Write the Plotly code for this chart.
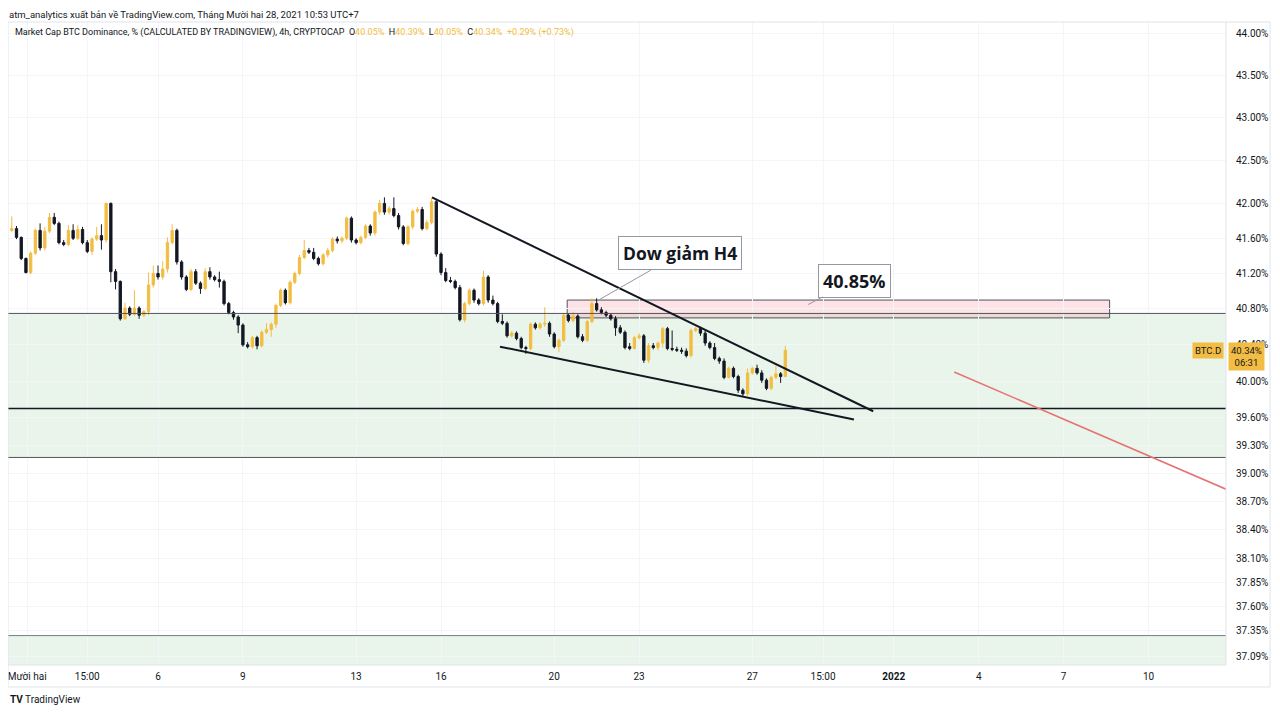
import math
import pandas as pd
import plotly.graph_objects as go

# ---------------- data ----------------
candle_start = "2021-11-30 23:00"   # first 4h bar (UTC+7)
candle_step = "4h"

open_ = [41.69, 41.71, 41.61, 41.37, 41.21, 41.43, 41.69, 41.49, 41.68, 41.84,
         41.77, 41.55, 41.53, 41.69, 41.60, 41.70, 41.55, 41.45, 41.59, 41.63,
         41.58, 42.00, 41.22, 41.11, 40.69, 40.81, 40.74, 40.81, 40.73, 40.77,
         41.07, 41.20, 41.16, 41.25, 41.55, 41.69, 41.33, 41.16, 41.02, 41.22,
         41.09, 41.03, 41.22, 41.16, 41.13, 41.11, 40.86, 40.76, 40.71, 40.62,
         40.40, 40.38, 40.48, 40.39, 40.54, 40.57, 40.63, 40.84, 41.01, 40.87,
         41.10, 41.20, 41.38, 41.46, 41.44, 41.37, 41.31, 41.41, 41.46, 41.59,
         41.57, 41.60, 41.83, 41.58, 41.55, 41.61, 41.74, 41.66, 41.90, 42.00,
         41.90, 41.94, 41.86, 41.73, 41.54, 41.73, 41.91, 41.93, 41.71, 41.78,
         42.02, 41.42, 41.21, 41.12, 41.11, 41.04, 40.68, 40.86, 41.01, 40.90,
         40.86, 41.16, 40.90, 40.86, 40.66, 40.64, 40.50, 40.53, 40.47, 40.37,
         40.36, 40.63, 40.59, 40.63, 40.64, 40.52, 40.38, 40.45, 40.73, 40.67,
         40.72, 40.49, 40.45, 40.66, 40.86, 40.79, 40.76, 40.73, 40.69, 40.59,
         40.54, 40.38, 40.36, 40.48, 40.50, 40.23, 40.39, 40.37, 40.42, 40.58,
         40.36, 40.35, 40.34, 40.33, 40.28, 40.56, 40.58, 40.53, 40.42, 40.37,
         40.25, 40.22, 40.04, 40.14, 40.05, 39.90, 39.86, 40.09, 40.14, 40.09,
         40.01, 39.92, 40.04, 40.08, 40.05]

high = [41.85, 41.74, 41.62, 41.38, 41.45, 41.71, 41.77, 41.73, 41.89, 41.89,
        41.79, 41.58, 41.75, 41.76, 41.75, 41.73, 41.58, 41.61, 41.73, 41.76,
        42.01, 42.01, 41.25, 41.12, 40.87, 40.83, 41.01, 40.83, 40.79, 41.21,
        41.29, 41.29, 41.34, 41.61, 41.76, 41.71, 41.35, 41.18, 41.25, 41.25,
        41.11, 41.26, 41.27, 41.18, 41.22, 41.13, 40.88, 40.78, 40.73, 40.64,
        40.43, 40.50, 40.50, 40.56, 40.64, 40.65, 40.86, 41.03, 41.03, 41.12,
        41.22, 41.41, 41.58, 41.49, 41.49, 41.39, 41.43, 41.49, 41.61, 41.62,
        41.62, 41.85, 41.85, 41.60, 41.63, 41.76, 41.76, 41.92, 42.04, 42.07,
        41.97, 42.07, 41.89, 41.75, 41.75, 41.93, 41.96, 41.96, 41.81, 42.06,
        42.05, 41.44, 41.26, 41.16, 41.13, 41.07, 40.88, 41.03, 41.03, 40.92,
        41.23, 41.18, 40.95, 40.88, 40.74, 40.66, 40.55, 40.55, 40.49, 40.39,
        40.65, 40.65, 40.65, 40.82, 40.66, 40.54, 40.47, 40.75, 40.75, 40.77,
        40.74, 40.52, 40.68, 40.92, 40.92, 40.82, 40.78, 40.75, 40.72, 40.62,
        40.56, 40.42, 40.50, 40.53, 40.52, 40.42, 40.42, 40.44, 40.60, 40.60,
        40.56, 40.38, 40.37, 40.36, 40.58, 40.60, 40.60, 40.57, 40.44, 40.42,
        40.27, 40.25, 40.16, 40.16, 40.07, 39.92, 40.14, 40.16, 40.18, 40.12,
        40.03, 40.06, 40.17, 40.10, 40.39]

low = [41.67, 41.59, 41.35, 41.20, 41.19, 41.41, 41.46, 41.46, 41.66, 41.75,
       41.53, 41.51, 41.51, 41.58, 41.58, 41.53, 41.43, 41.41, 41.57, 41.47,
       41.55, 41.10, 41.02, 40.67, 40.68, 40.72, 40.72, 40.69, 40.71, 40.73,
       41.04, 41.13, 41.13, 41.21, 41.53, 41.30, 41.13, 41.00, 41.00, 41.07,
       40.97, 41.01, 41.13, 41.11, 41.04, 40.84, 40.74, 40.68, 40.53, 40.38,
       40.36, 40.36, 40.35, 40.37, 40.52, 40.49, 40.59, 40.82, 40.85, 40.85,
       41.08, 41.18, 41.36, 41.42, 41.35, 41.29, 41.29, 41.38, 41.44, 41.54,
       41.54, 41.58, 41.55, 41.53, 41.53, 41.59, 41.63, 41.63, 41.87, 41.87,
       41.87, 41.84, 41.70, 41.52, 41.52, 41.70, 41.89, 41.69, 41.69, 41.76,
       41.39, 41.18, 41.10, 41.09, 41.02, 40.66, 40.65, 40.84, 40.87, 40.84,
       40.84, 40.87, 40.84, 40.64, 40.62, 40.48, 40.48, 40.45, 40.35, 40.30,
       40.34, 40.57, 40.57, 40.60, 40.49, 40.36, 40.32, 40.43, 40.65, 40.65,
       40.47, 40.43, 40.43, 40.64, 40.77, 40.74, 40.71, 40.67, 40.50, 40.52,
       40.35, 40.34, 40.35, 40.46, 40.20, 40.20, 40.35, 40.34, 40.37, 40.34,
       40.33, 40.32, 40.30, 40.26, 40.26, 40.54, 40.50, 40.39, 40.35, 40.23,
       40.19, 40.02, 40.03, 40.03, 39.87, 39.83, 39.84, 40.07, 40.07, 39.98,
       39.90, 39.90, 40.02, 39.98, 40.05]

close = [41.71, 41.61, 41.37, 41.21, 41.43, 41.69, 41.49, 41.68, 41.84, 41.77,
         41.55, 41.53, 41.69, 41.60, 41.70, 41.55, 41.45, 41.59, 41.63, 41.58,
         42.00, 41.22, 41.11, 40.69, 40.81, 40.74, 40.81, 40.73, 40.77, 41.07,
         41.20, 41.16, 41.25, 41.55, 41.69, 41.33, 41.16, 41.02, 41.22, 41.09,
         41.03, 41.22, 41.16, 41.13, 41.11, 40.86, 40.76, 40.71, 40.62, 40.40,
         40.38, 40.48, 40.39, 40.54, 40.57, 40.63, 40.84, 41.01, 40.87, 41.10,
         41.20, 41.38, 41.46, 41.44, 41.37, 41.31, 41.41, 41.46, 41.59, 41.57,
         41.60, 41.83, 41.58, 41.55, 41.61, 41.74, 41.66, 41.90, 42.00, 41.90,
         41.94, 41.86, 41.73, 41.54, 41.73, 41.91, 41.93, 41.71, 41.78, 42.02,
         41.42, 41.21, 41.12, 41.11, 41.04, 40.68, 40.86, 41.01, 40.90, 40.86,
         41.16, 40.90, 40.86, 40.66, 40.64, 40.50, 40.53, 40.47, 40.37, 40.36,
         40.63, 40.59, 40.63, 40.64, 40.52, 40.38, 40.45, 40.73, 40.67, 40.72,
         40.49, 40.45, 40.66, 40.86, 40.79, 40.76, 40.73, 40.69, 40.59, 40.54,
         40.37, 40.36, 40.48, 40.50, 40.23, 40.39, 40.37, 40.42, 40.58, 40.36,
         40.35, 40.34, 40.33, 40.28, 40.56, 40.58, 40.53, 40.42, 40.37, 40.25,
         40.22, 40.04, 40.14, 40.05, 39.90, 39.86, 40.09, 40.14, 40.09, 40.01,
         39.92, 40.04, 40.08, 40.05, 40.34]

# axis ticks
y_ticks = [44.00, 43.50, 43.00, 42.50, 42.00, 41.60, 41.20, 40.80, 40.40, 40.00,
           39.60, 39.30, 39.00, 38.70, 38.40, 38.10, 37.85, 37.60, 37.35, 37.09]
x_tick_dates = ["2021-12-01 12:00", "2021-12-03 15:00", "2021-12-06 03:00", "2021-12-09 03:00",
                "2021-12-13 03:00", "2021-12-16 03:00", "2021-12-20 03:00", "2021-12-23 03:00",
                "2021-12-27 03:00", "2021-12-29 15:00", "2022-01-01 03:00", "2022-01-04 03:00",
                "2022-01-07 03:00", "2022-01-10 03:00"]
x_tick_labels = ["Mười hai", "15:00", "6", "9", "13", "16", "20", "23", "27", "15:00",
                 "<b>2022</b>", "4", "7", "10"]
x_view = ["2021-11-30 19:47", "2022-01-12 20:42"]
y_view = [37.0, 44.145]

# drawings (price levels / lines, in date & price units)
green_zones = [(39.17, 40.75), (36.90, 37.30)]
h_levels = [40.75, 39.70, 39.17, 37.30]
h_colors = ["#50535e", "#131722", "#50535e", "#787b86"]
h_widths = [1, 1.5, 1, 1]
pink_zone = ("2021-12-20 14:00", "2022-01-08 18:00", 40.70, 40.90)
upper_trend = (("2021-12-15 19:20", 42.07), ("2021-12-31 09:30", 39.67))
lower_trend = (("2021-12-18 05:00", 40.38), ("2021-12-30 17:10", 39.58))
red_line = (("2022-01-03 06:10", 40.10), ("2022-01-12 20:42", 38.83))
callout_dow = ("2021-12-21 16:00", 40.895, "Dow giảm H4")
callout_pct = ("2021-12-29 02:20", 40.85, "40.85%")
last_price = 40.34

YEL = "#F2BD42"
BLK = "#131722"
FONT = "Roboto"

times = pd.date_range(candle_start, periods=len(close), freq=candle_step)

fig = go.Figure()
fig.add_trace(go.Candlestick(
    x=times, open=open_, high=high, low=low, close=close,
    increasing=dict(line=dict(color=YEL, width=1), fillcolor=YEL),
    decreasing=dict(line=dict(color=BLK, width=1), fillcolor=BLK),
    whiskerwidth=0, showlegend=False, hoverinfo="skip"))

shapes = []
for lo, hi in green_zones:
    shapes.append(dict(type="rect", xref="paper", x0=0, x1=1, yref="y", y0=lo, y1=hi,
                       fillcolor="rgba(76,175,80,0.12)", line=dict(width=0), layer="below"))
shapes.append(dict(type="rect", xref="x", x0=pink_zone[0], x1=pink_zone[1], yref="y",
                   y0=pink_zone[2], y1=pink_zone[3], fillcolor="rgba(242,54,69,0.14)",
                   line=dict(color="#50535e", width=1), layer="below"))
for lv, c, w in zip(h_levels, h_colors, h_widths):
    shapes.append(dict(type="line", xref="paper", x0=0, x1=1, yref="y", y0=lv, y1=lv,
                       line=dict(color=c, width=w)))
for (p0, p1), col, w in [(upper_trend, BLK, 2), (lower_trend, BLK, 2), (red_line, "#e57373", 1.5)]:
    shapes.append(dict(type="line", xref="x", yref="y", x0=p0[0], y0=p0[1], x1=p1[0], y1=p1[1],
                       line=dict(color=col, width=w)))

# figure geometry (the page body adds an 8px offset)
W, H = 1264, 697
ML, MR, MT, MB = 0, 46, 14, 40
pw = W - ML - MR
ph = H - MT - MB
axis_bottom = -(22 / ph)
axis_right = 1 + 44 / pw
frame_col = "#e0e3eb"
shapes += [
    dict(type="rect", xref="paper", yref="paper", x0=0, x1=1, y0=0, y1=1, line=dict(color=frame_col, width=1)),
    dict(type="line", xref="paper", yref="paper", x0=0, x1=axis_right, y0=axis_bottom, y1=axis_bottom, line=dict(color=frame_col, width=1)),
    dict(type="line", xref="paper", yref="paper", x0=0, x1=0, y0=axis_bottom, y1=0, line=dict(color=frame_col, width=1)),
    dict(type="line", xref="paper", yref="paper", x0=axis_right, x1=axis_right, y0=axis_bottom, y1=1, line=dict(color=frame_col, width=1)),
    dict(type="line", xref="paper", yref="paper", x0=1, x1=axis_right, y0=1, y1=1, line=dict(color=frame_col, width=1)),
]

annotations = [
    dict(xref="paper", yref="paper", x=0, y=1, xanchor="left", yanchor="middle", yshift=7.5, xshift=0,
         text="atm_analytics xuất bản về TradingView.com, Tháng Mười hai 28, 2021 10:53 UTC+7",
         showarrow=False, borderpad=0, font=dict(family=FONT, size=9.5, color="#131722")),
    dict(xref="paper", yref="paper", x=0, y=1, xanchor="left", yanchor="middle", yshift=-10, xshift=5,
         text=("Market Cap BTC Dominance, % (CALCULATED BY TRADINGVIEW), 4h, CRYPTOCAP  "
               f"O<span style='color:{YEL}'>40.05%</span>  H<span style='color:{YEL}'>40.39%</span>  "
               f"L<span style='color:{YEL}'>40.05%</span>  C<span style='color:{YEL}'>40.34%</span>  "
               f"<span style='color:{YEL}'>+0.29% (+0.73%)</span>"),
         showarrow=False, font=dict(family=FONT, size=9, color="#131722")),
    dict(x=callout_dow[0], y=math.log10(callout_dow[1]), xref="x", yref="y", text=f"<b>{callout_dow[2]}</b>",
         showarrow=True, arrowhead=0, arrowwidth=1, arrowcolor="#9598a1", ax=82, ay=-47,
         bgcolor="white", bordercolor="#9598a1", borderwidth=1, borderpad=4,
         font=dict(family="Open Sans", size=17.5, color="#131722")),
    dict(x=callout_pct[0], y=math.log10(callout_pct[1]), xref="x", yref="y", text=f"<b>{callout_pct[2]}</b>",
         showarrow=True, arrowhead=0, arrowwidth=1, arrowcolor="#9598a1", ax=46, ay=-24,
         bgcolor="white", bordercolor="#9598a1", borderwidth=1, borderpad=4,
         font=dict(family="Open Sans", size=18, color="#131722")),
    dict(xref="paper", yref="y", x=1, y=math.log10(last_price), xanchor="right", yanchor="middle",
         xshift=-2, text="BTC.D", showarrow=False, bgcolor=YEL, borderpad=2,
         font=dict(family=FONT, size=9.5, color="#131722")),
    dict(xref="paper", yref="y", x=1, y=math.log10(last_price), xanchor="left", yanchor="top",
         xshift=2, yshift=8, text=f"{last_price:.2f}%<br>06:31", showarrow=False, bgcolor=YEL, borderpad=2,
         align="center", font=dict(family=FONT, size=9.5, color="#131722")),
    dict(xref="paper", yref="paper", x=0, y=axis_bottom, xanchor="left", yanchor="middle", yshift=-12,
         text="<b>TV</b> TradingView", showarrow=False, font=dict(family=FONT, size=10, color="#131722")),
]

fig.update_layout(
    width=W, height=H,
    margin=dict(l=ML, r=MR, t=MT, b=MB),
    paper_bgcolor="white", plot_bgcolor="white",
    shapes=shapes, annotations=annotations, showlegend=False,
    xaxis=dict(type="date", range=x_view, tickmode="array", tickvals=x_tick_dates, ticktext=x_tick_labels,
               showgrid=True, gridcolor="#f4f5f8", zeroline=False, ticks="", showline=False,
               rangeslider=dict(visible=False), ticklabelstandoff=4, ticklabeloverflow="allow",
               tickfont=dict(family=FONT, size=10, color="#131722")),
    yaxis=dict(type="log", range=[math.log10(v) for v in y_view], side="right", tickmode="array",
               tickvals=y_ticks, ticktext=[f"{v:.2f}%" for v in y_ticks],
               showgrid=True, gridcolor="#f4f5f8", zeroline=False, ticks="", showline=False,
               ticklabelstandoff=9, tickfont=dict(family=FONT, size=10, color="#131722")),
)

fig.write_html("out.html")
